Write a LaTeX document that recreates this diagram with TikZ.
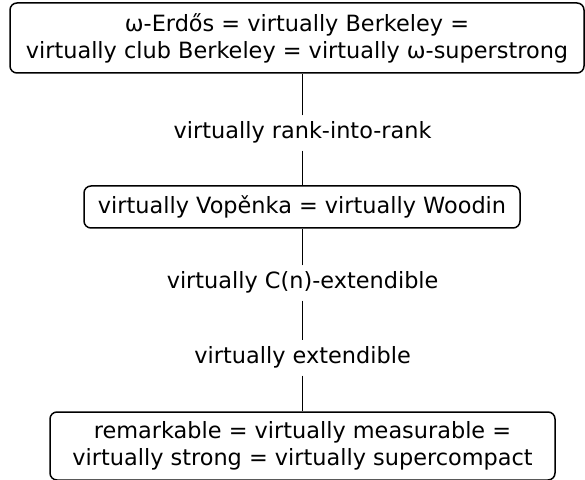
\documentclass[tikz,border=0pt]{standalone}
\usepackage{fontspec}
\setmainfont{DejaVu Sans}
\begin{document}
\begin{tikzpicture}[x=1pt,y=1pt,
  box/.style={draw,line width=1.5pt,rounded corners=7pt,align=center,inner sep=0pt,
    font=\fontsize{22.4}{27}\selectfont},
  lbl/.style={inner xsep=2pt,inner ysep=0pt,text height=17pt,text depth=5.3pt,minimum height=35pt,
    font=\fontsize{22.4}{27}\selectfont},
  conn/.style={line width=1.5pt}]
\useasboundingbox (0,0) rectangle (585,479);
\node[box,minimum width=574pt,minimum height=70pt] (top) at (297,441)
  {ω-Erdős = virtually Berkeley =\\virtually club Berkeley = virtually ω-superstrong};
\node[box,minimum width=436pt,minimum height=42pt] (mid) at (302,272)
  {virtually Vopěnka = virtually Woodin};
\node[box,minimum width=505pt,minimum height=68pt] (bot) at (302.5,33)
  {remarkable = virtually measurable =\\virtually strong = virtually supercompact};
\node[lbl] (l1) at (302.6,346) {virtually rank-into-rank};
\node[lbl] (l2) at (302.6,196) {virtually C(n)-extendible};
\node[lbl] (l3) at (302.6,121) {virtually extendible};
\draw[conn] (l1.north) -- (l1.north |- top.south);
\draw[conn] (l1.south) -- (l1.south |- mid.north);
\draw[conn] (l2.north) -- (l2.north |- mid.south);
\draw[conn] (l2.south) -- (l3.north);
\draw[conn] (l3.south) -- (l3.south |- bot.north);
\end{tikzpicture}
\end{document}
